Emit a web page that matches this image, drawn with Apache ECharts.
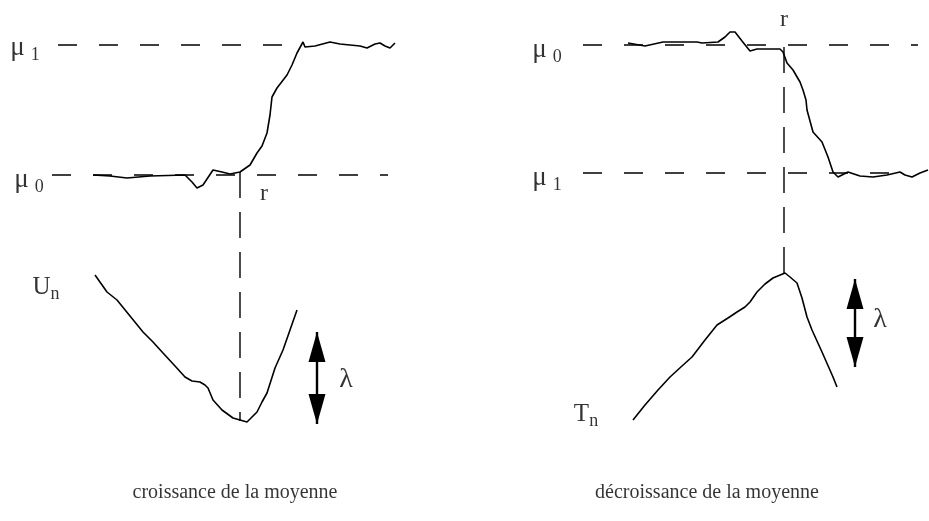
<!DOCTYPE html>
<html><head><meta charset="utf-8">
<script src="https://cdn.jsdelivr.net/npm/echarts@6/dist/echarts.min.js"></script>
<style>html,body{margin:0;padding:0;background:#fff}#c{width:929px;height:521px}</style>
</head><body><div id="c"></div>
<script>
// Left panel: increase of the mean (x, y in diagram units, y downward)
const leftSignal = [[93,175],[110,176],[127,178],[150,176],[185,175],[192,182],[197,188],[203,185],[213,170],[222,172],[230,174],[240,172],[250,165],[257,153],[262,146],[267,133],[270,115],[272,97],[277,88],[287,75],[292,65],[297,53],[303,42],[305,47],[315,46],[330,42],[340,44],[350,45],[360,46],[367,48],[375,44],[380,43],[385,46],[390,48],[395,43]];
const leftStat = [[95,275],[107,292],[117,300],[130,316],[143,332],[153,342],[163,353],[175,366],[185,377],[192,381],[200,382],[205,385],[208,388],[213,400],[222,410],[233,418],[240,420],[247,422],[257,412],[262,402],[267,393],[275,368],[283,350],[290,330],[297,310]];
// Right panel: decrease of the mean
const rightSignal = [[628,43],[645,46],[663,42],[697,42],[702,43],[718,42],[725,37],[730,32],[735,32],[742,41],[750,51],[757,49],[780,49],[783,52],[787,63],[793,70],[800,82],[803,90],[806,100],[807,110],[813,132],[822,142],[828,157],[833,172],[838,177],[848,172],[860,176],[873,177],[887,175],[900,172],[905,175],[912,177],[920,173],[928,170]];
const rightStat = [[633,420],[645,405],[658,390],[670,377],[682,366],[692,357],[705,340],[717,325],[728,318],[737,312],[745,307],[750,302],[757,292],[765,284],[773,278],[785,273],[790,277],[797,283],[802,298],[807,317],[812,330],[822,352],[833,377],[837,387]];
// Reference levels
const leftMu1 = [[58,45],[300,45]];
const leftMu0 = [[52,175],[388,175]];
const rightMu0 = [[583,45],[918,45]];
const rightMu1 = [[583,173],[905,173]];
const leftChange = [[240,172],[240,421]];
const rightChange = [[784,47],[784,273]];
// Threshold arrows (lambda)
const leftArrow = [[317,332],[317,424]];
const rightArrow = [[855,279],[855,367]];
const captions = ['croissance de la moyenne', 'décroissance de la moyenne'];

const serif = '"Liberation Serif","Times New Roman",serif';
const solid = {color:'#000', width:1.6};
function lineS(data, style){
  return {type:'line', data, showSymbol:false, symbol:'none', lineStyle:style, animation:false, silent:true, z:3};
}
const dashH = {color:'#000', width:1.4, type:[19,22]};
const dashV = {color:'#000', width:1.4, type:[26,14]};

function headSeries(arrow){
  const x = arrow[0][0], top = arrow[0][1], bot = arrow[1][1];
  return {type:'scatter', animation:false, silent:true, symbol:'triangle', symbolSize:[17,30],
    itemStyle:{color:'#000', opacity:1}, z:4,
    data:[{value:[x, top+15]}, {value:[x, bot-15], symbolRotate:180}]};
}

const txt = (x, y, rich, fmt) => ({value:[x,y], label:{show:true, formatter:fmt, rich}});
const richMu = {m:{fontFamily:serif, fontSize:27, color:'#000'}, s:{fontFamily:serif, fontSize:18, color:'#000', padding:[14,0,0,6]}};
const richSub = {b:{fontFamily:serif, fontSize:25, color:'#000'}, s:{fontFamily:serif, fontSize:18, color:'#000', padding:[14,0,0,0]}};
const big = {p:{fontFamily:serif, fontSize:24, color:'#000'}};
const lam = {p:{fontFamily:serif, fontSize:28, color:'#000'}};
const cap = {p:{fontFamily:serif, fontSize:20, color:'#000'}};

const labels = [
  txt(25,48,richMu,'{m|μ}{s|1}'),
  txt(29,180,richMu,'{m|μ}{s|0}'),
  txt(547,50,richMu,'{m|μ}{s|0}'),
  txt(547,178,richMu,'{m|μ}{s|1}'),
  txt(264,194,big,'{p|r}'),
  txt(784,20,big,'{p|r}'),
  txt(46,287,richSub,'{b|U}{s|n}'),
  txt(586,414,richSub,'{b|T}{s|n}'),
  txt(346,380,lam,'{p|λ}'),
  txt(880,320,lam,'{p|λ}'),
  txt(235,493,cap,'{p|'+captions[0]+'}'),
  txt(707,493,cap,'{p|'+captions[1]+'}')
];

const chart = echarts.init(document.getElementById('c'), null, {renderer:'canvas'});
chart.setOption({
  backgroundColor:'#fff',
  animation:false,
  grid:{left:0,right:0,top:0,bottom:0},
  xAxis:{type:'value', min:0, max:929, show:false},
  yAxis:{type:'value', min:0, max:521, inverse:true, show:false},
  series:[
    lineS(leftMu1, dashH), lineS(leftMu0, dashH), lineS(rightMu0, dashH), lineS(rightMu1, dashH),
    lineS(leftChange, dashV), lineS(rightChange, dashV),
    lineS(leftSignal, solid), lineS(leftStat, solid), lineS(rightSignal, solid), lineS(rightStat, solid),
    lineS(leftArrow, {color:'#000', width:2.4}), lineS(rightArrow, {color:'#000', width:2.4}),
    headSeries(leftArrow), headSeries(rightArrow),
    {type:'scatter', symbolSize:0, silent:true, animation:false, z:5,
      label:{show:true, position:'inside', align:'center', verticalAlign:'middle'}, data:labels}
  ]
});
</script></body></html>
